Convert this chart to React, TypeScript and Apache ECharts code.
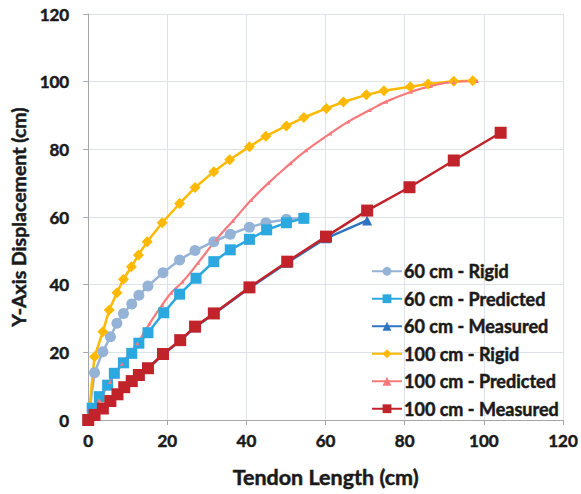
import React, { useEffect, useRef } from "react";
import * as echarts from "echarts";

const xTicks = [0, 20, 40, 60, 80, 100, 120];

const rigid60: number[][] = [
  [0, 0], [1.6, 14.0], [3.7, 20.2], [5.6, 24.6], [7.25, 28.6], [8.9, 31.5], [11, 34.3],
  [12.8, 36.9], [15.1, 39.6], [18.9, 43.5], [23.1, 47.3], [27, 50.1], [31.75, 52.7],
  [35.9, 54.9], [40.75, 57.0], [44.9, 58.3], [50.1, 59.3], [54.5, 59.8],
];

const predicted60: number[][] = [
  [0, 0], [1, 3.5], [2.8, 6.9], [4.9, 10.3], [6.6, 13.8], [8.9, 16.9], [11, 19.7],
  [12.8, 22.7], [15.1, 25.8], [19.1, 31.7], [23.1, 37.2], [27.25, 41.9], [31.75, 46.8],
  [35.9, 50.3], [40.75, 53.4], [45.1, 56.2], [50.1, 58.3], [54.5, 59.6],
];

const measured60: number[][] = [
  [0, 0], [1.6, 1.4], [3.7, 3.3], [5.6, 5.4], [7.4, 7.4], [9.1, 9.5], [11, 11.3],
  [12.8, 13.1], [15.1, 15.1], [18.9, 19.3], [23.25, 23.4], [27, 27.4], [31.75, 31.3],
  [40.75, 39.0], [50.3, 46.5], [60.1, 53.7], [70.5, 59.0],
];

const rigid100: number[][] = [
  [0, 0], [1.6, 18.7], [3.7, 26.1], [5.3, 32.5], [7.25, 37.6], [8.9, 41.6], [10.9, 45.3],
  [12.7, 48.8], [14.9, 52.7], [18.7, 58.3], [23.1, 64.0], [27, 68.7], [31.75, 73.4],
  [35.75, 76.9], [40.75, 80.8], [44.9, 83.9], [50.1, 86.9], [54.5, 89.4], [60.2, 92.1],
  [64.5, 94.0], [70.3, 96.1], [74.75, 97.3], [81.4, 98.5], [85.9, 99.3], [92.4, 100.1],
  [97.2, 100.3],
];

const predicted100: number[][] = [
  [0, 0], [2.8, 5.9], [5.5, 11.2], [8.5, 16.6], [12.4, 22.7], [15.5, 28.5], [18.7, 34.0],
  [21, 37.6], [23.9, 40.9], [27.8, 46.5], [32.4, 53.4], [36.6, 58.9], [41.2, 65.0],
  [45.6, 70.1], [51.2, 75.9], [55.1, 79.7], [61.2, 84.7], [65.75, 88.2], [71.2, 91.6],
  [75.3, 94.1], [81.6, 97.0], [86.6, 98.7], [92.4, 99.9], [98.25, 100.2],
];

const measured100: number[][] = [
  [0, 0], [1.6, 1.5], [3.7, 3.4], [5.6, 5.6], [7.4, 7.6], [9.1, 9.7], [11, 11.5],
  [12.8, 13.3], [15.1, 15.3], [18.9, 19.5], [23.25, 23.6], [27, 27.6], [31.75, 31.5],
  [40.75, 39.2], [50.3, 46.8], [60.1, 54.2], [70.5, 61.9], [81.2, 68.8], [92.4, 76.7],
  [104.25, 84.9],
];

const seriesNames = [
  "60 cm - Rigid",
  "60 cm - Predicted",
  "60 cm - Measured",
  "100 cm - Rigid",
  "100 cm - Predicted",
  "100 cm - Measured",
];

const FONT = "Lato, 'Open Sans', sans-serif";
const INK = "#1a1a1a";
const bold = { fontFamily: FONT, fontWeight: "bold", color: INK, textBorderColor: INK, textBorderWidth: 0.5 };

export default function App() {
  const ref = useRef<HTMLDivElement>(null);
  useEffect(() => {
    if (!ref.current) return;
    document.body.style.margin = "0";
    const chart = echarts.init(ref.current, null, { renderer: "svg" });
    const mk = (
      name: string,
      data: number[][],
      color: string,
      symbol: string,
      symbolSize: number,
      width: number,
      smooth = false
    ) => ({
      name,
      type: "line",
      data,
      smooth,
      symbol,
      symbolSize,
      showSymbol: true,
      lineStyle: { color, width },
      itemStyle: { color, borderWidth: 0 },
    });
    chart.setOption({
      animation: false,
      backgroundColor: "#ffffff",
      grid: { left: 87, top: 14, width: 477, height: 406, containLabel: false },
      legend: {
        orient: "vertical",
        left: 366,
        top: 257,
        itemWidth: 30,
        itemHeight: 11,
        itemGap: 9,
        data: seriesNames,
        textStyle: {
          ...bold,
          fontSize: 18,
          lineHeight: 18,
          padding: [0, 0, 0, -3],
        },
      },
      xAxis: {
        type: "value",
        min: 0,
        max: 120,
        interval: 20,
        name: "Tendon Length (cm)",
        nameLocation: "middle",
        nameGap: 46,
        nameTextStyle: { ...bold, fontSize: 21.5 },
        axisLine: { show: true, lineStyle: { color: "#a6a6a6", width: 1 } },
        axisTick: { show: true, length: 5, lineStyle: { color: "#a6a6a6" } },
        axisLabel: {
          ...bold,
          margin: 12,
          fontSize: 17,
          formatter: (v: number) => (xTicks.includes(v) ? String(v) : ""),
        },
        splitLine: { show: true, lineStyle: { color: "#dde2e8", width: 1 } },
      },
      yAxis: {
        type: "value",
        min: 0,
        max: 120,
        interval: 20,
        name: "Y-Axis Displacement (cm)",
        nameLocation: "middle",
        nameGap: 49,
        nameTextStyle: { ...bold, fontSize: 19.5 },
        axisLine: { show: true, lineStyle: { color: "#a6a6a6", width: 1 } },
        axisTick: { show: true, length: 5, lineStyle: { color: "#a6a6a6" } },
        axisLabel: {
          ...bold,
          margin: 19,
          fontSize: 17,
        },
        splitLine: { show: true, lineStyle: { color: "#dde2e8", width: 1 } },
      },
      series: [
        mk(seriesNames[0], rigid60, "#95b3d7", "circle", 11, 2.5),
        mk(seriesNames[1], predicted60, "#2ca8e0", "rect", 11, 2.5),
        mk(seriesNames[2], measured60, "#2f74c0", "triangle", 10, 2.5),
        mk(seriesNames[3], rigid100, "#ffb900", "diamond", 11, 2.5),
        mk(seriesNames[4], predicted100, "#f7797b", "triangle", 4, 2.2, true),
        mk(seriesNames[5], measured100, "#c0232a", "rect", 12, 2.5),
      ],
    });
    return () => chart.dispose();
  }, []);
  return <div ref={ref} style={{ width: 581, height: 494 }} />;
}
